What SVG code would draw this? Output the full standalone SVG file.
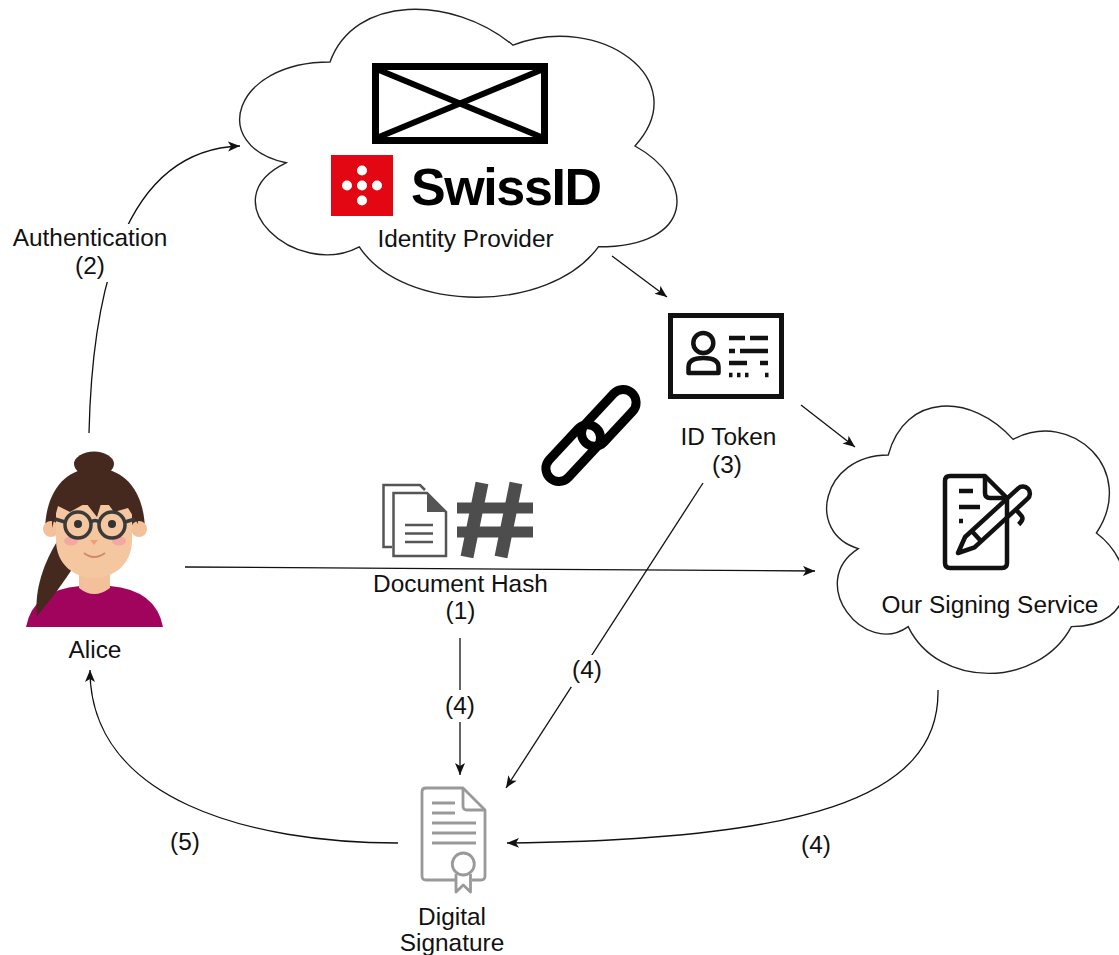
<svg xmlns="http://www.w3.org/2000/svg" width="1119" height="955" viewBox="0 0 1119 955">
  <style>
    .lbl { font-family: "Liberation Sans", Arial, sans-serif; font-size: 24.4px; fill: #111; text-anchor: middle; }
    .cloud { fill: #fff; stroke: #222; stroke-width: 1.4; }
    .edge { fill: none; stroke: #111; stroke-width: 1.3; }
    .ink { fill: none; stroke: #111; stroke-linecap: butt; stroke-linejoin: round; }
    .grey { fill: none; stroke: #555; stroke-width: 2.5; }
    .cert { fill: none; stroke: #999; stroke-width: 2.8; stroke-linejoin: round; }
  </style>
  <defs>
    <marker id="arrow" markerUnits="userSpaceOnUse" markerWidth="14" markerHeight="12" refX="12" refY="5" orient="auto">
      <path d="M0 0 L12 5 L0 10 L3 5 Z" fill="#111"/>
    </marker>
  </defs>

  <rect width="1119" height="955" fill="#fff"/>

  <!-- connectors -->
  <g id="connectors">
    <!-- Alice -> identity provider -->
    <path class="edge" d="M89 433 C92 300 120 150 240 146" marker-end="url(#arrow)"/>
    <!-- identity provider -> ID token -->
    <path class="edge" d="M612 256 L667 297" marker-end="url(#arrow)"/>
    <!-- ID token -> signing service -->
    <path class="edge" d="M801 405 L855 447" marker-end="url(#arrow)"/>
    <!-- Alice -> signing service -->
    <path class="edge" d="M185 567 L815 571" marker-end="url(#arrow)"/>
    <!-- ID token -> digital signature -->
    <path class="edge" d="M703 483 L506 788" marker-end="url(#arrow)"/>
    <!-- document hash -> digital signature -->
    <path class="edge" d="M460 638 L460 775" marker-end="url(#arrow)"/>
    <!-- signing service -> digital signature -->
    <path class="edge" d="M938 690 C940 800 800 840 507 843" marker-end="url(#arrow)"/>
    <!-- digital signature -> Alice -->
    <path class="edge" d="M398 843 C250 843 90 800 90 670" marker-end="url(#arrow)"/>

    <!-- edge labels -->
    <rect x="10" y="224" width="162" height="58" fill="#fff"/>
    <text class="lbl" x="90" y="246">Authentication</text>
    <text class="lbl" x="90" y="274">(2)</text>
    <rect x="571" y="655" width="33" height="32" fill="#fff"/>
    <text class="lbl" x="587" y="678">(4)</text>
    <rect x="444" y="690" width="32" height="32" fill="#fff"/>
    <text class="lbl" x="460" y="714">(4)</text>
    <text class="lbl" x="816" y="853">(4)</text>
    <text class="lbl" x="185" y="850">(5)</text>
  </g>

  <!-- identity provider cloud -->
  <g id="identity-provider">
    <path class="cloud" d="M330 62 C232.4 62 208 146 286.1 162.8 C208 199.8 295.8 280.4 359.3 246.8 C403.2 314 549.6 314 598.4 246.8 C696 246.8 696 179.6 635 146 C696 78.8 598.4 11.6 513 45.2 C452 -5.2 354.4 -5.2 330 62 Z"/>
    <!-- missing-image placeholder -->
    <rect x="375.5" y="66.5" width="169" height="74" fill="none" stroke="#000" stroke-width="7"/>
    <path d="M379 70 L541 137 M379 137 L541 70" stroke="#000" stroke-width="6"/>
    <!-- SwissID logo -->
    <rect x="331" y="155" width="62" height="61" fill="#e30613"/>
    <g fill="#fff">
      <circle cx="362" cy="170.5" r="5"/>
      <circle cx="347" cy="185.5" r="5"/>
      <circle cx="362" cy="185.5" r="5"/>
      <circle cx="377" cy="185.5" r="5"/>
      <circle cx="362" cy="200.5" r="5"/>
    </g>
    <text x="411" y="205" font-family="Liberation Sans, Arial, sans-serif" font-weight="bold" font-size="52" textLength="191" fill="#000">SwissID</text>
    <text class="lbl" x="465.5" y="247">Identity Provider</text>
  </g>

  <!-- ID token -->
  <g id="id-token">
    <rect x="670.5" y="315.5" width="111" height="81" fill="#fff" stroke="#111" stroke-width="5"/>
    <circle cx="703.3" cy="343" r="10" class="ink" stroke-width="4.5"/>
    <path class="ink" stroke-width="4.5" d="M688.5 373 L688.5 367 Q688.5 358 703.5 358 Q718.5 358 718.5 367 L718.5 373 Z"/>
    <g class="ink" stroke-width="4.5">
      <path d="M729 338 H745 M750 338 H768"/>
      <path d="M729 351 H735 M740 351 H768"/>
      <path d="M729 363 H747 M760 363 H768"/>
      <path d="M729 375 H732.5 M737 375 H740.5 M745 375 H748.5 M765 375 H768.5"/>
    </g>
    <text class="lbl" x="728.5" y="445">ID Token</text>
    <text class="lbl" x="727" y="473">(3)</text>
  </g>

  <!-- chain link -->
  <g id="link" transform="translate(591 435.5) rotate(-47)">
    <rect x="-59" y="-14" width="68" height="26" rx="13" fill="none" stroke="#000" stroke-width="9"/>
    <rect x="-9" y="-12" width="68" height="26" rx="13" fill="none" stroke="#000" stroke-width="9"/>
  </g>

  <!-- document hash -->
  <g id="document-hash">
    <path class="grey" d="M392 547 L383.5 547 L383.5 485 L420 485 L425 490"/>
    <path class="grey" d="M393.5 493 L427 493 L446 512 L446 556 L393.5 556 Z" fill="#fff"/>
    <path d="M427 493 L427 512 L446 512 Z" fill="#555"/>
    <path class="grey" d="M405 525 H433 M405 533.5 H433 M405 542 H433"/>
    <g stroke="#4d4d4d" stroke-width="13">
      <path d="M482 483 L467 557 M516 483 L501 557"/>
    </g>
    <g stroke="#4d4d4d" stroke-width="11">
      <path d="M457 508 H533 M457 532 H533"/>
    </g>
    <text class="lbl" x="460.5" y="592">Document Hash</text>
    <text class="lbl" x="460.5" y="619">(1)</text>
  </g>

  <!-- Alice -->
  <g id="alice">
    <!-- shirt and neck -->
    <path d="M26 627 Q33 590 80 586 L110 586 Q156 590 163 627 Z" fill="#a0045c"/>
    <path d="M79 558 L79 588 Q94 600 110 588 L110 558 Z" fill="#f2c19a"/>
    <!-- ponytail -->
    <path d="M58 540 C44 562 34 590 37 616 C52 598 64 582 74 566 Z" fill="#45291e"/>
    <!-- hair back and bun -->
    <ellipse cx="94" cy="464" rx="20" ry="12.5" fill="#45291e"/>
    <path d="M45 532 C45 492 65 468 95 468 C125 468 145 492 145 532 Z" fill="#45291e"/>
    <!-- ears -->
    <circle cx="51" cy="529" r="8" fill="#f2c19a"/>
    <circle cx="139" cy="529" r="8" fill="#f2c19a"/>
    <!-- face -->
    <path d="M56 505 L56 540 C56 565 75 578 94 578 C113 578 132 565 132 540 L132 505 Z" fill="#f5c7a0"/>
    <!-- fringe -->
    <path d="M52 528 L52 506 C55 488 72 480 95 480 C118 480 136 488 138 508 L138 524 L128 508 L114 512 L103 497 L97 517 L86 503 L70 512 L58 506 Z" fill="#45291e"/>
    <!-- cheeks, nose, smile -->
    <ellipse cx="71" cy="541" rx="7" ry="4.5" fill="#f4a8a0"/>
    <ellipse cx="119" cy="541" rx="7" ry="4.5" fill="#f4a8a0"/>
    <path d="M90 540 L98 540 L94 545 Z" fill="#f0a070"/>
    <path d="M84 553 Q94 561 105 553" fill="none" stroke="#d08a6b" stroke-width="2"/>
    <!-- glasses -->
    <circle cx="78" cy="524" r="4" fill="#333"/>
    <circle cx="112" cy="524" r="4" fill="#333"/>
    <g fill="none" stroke="#3a3a3a" stroke-width="3.5">
      <circle cx="78" cy="525" r="13"/>
      <circle cx="112" cy="525" r="13"/>
      <path d="M91 522 Q95 519 99 522 M65 522 L55 519 M125 522 L135 519"/>
    </g>
    <text class="lbl" x="95" y="658">Alice</text>
  </g>

  <!-- signing service cloud -->
  <g id="signing-service">
    <path class="cloud" d="M888.25 455 C821.65 455 805 533 858.3 548.6 C805 582.9 864.9 657.8 908.2 626.6 C938.2 689 1038.1 689 1071.4 626.6 C1138 626.6 1138 564.2 1096.4 533 C1138 470.6 1071.4 408.2 1013.1 439.4 C971.5 392.6 904.9 392.6 888.25 455 Z"/>
    <path class="ink" stroke-width="4.5" fill="#fff" d="M950 476 L985 476 L1007 498 L1007 563 Q1007 568 1002 568 L950 568 Q945 568 945 563 L945 481 Q945 476 950 476 Z"/>
    <path class="ink" stroke-width="4.5" d="M985 476 L985 493 Q985 498 990 498 L1007 498"/>
    <path class="ink" stroke-width="4.5" stroke-linecap="round" d="M959 491 H973 M959 507 H980 M959 521 H963"/>
    <g transform="translate(958 553) rotate(-42.5)">
      <path class="ink" stroke-width="4.5" fill="#fff" d="M0 0 L16 -7 L88 -7 A7 7 0 0 1 88 7 L16 7 Z"/>
      <path class="ink" stroke-width="4.5" d="M25 -7 L25 7 M72 7 L72 15 Q72 20 64 20"/>
    </g>
    <text class="lbl" x="990" y="613">Our Signing Service</text>
  </g>

  <!-- digital signature -->
  <g id="digital-signature">
    <path class="cert" d="M455 880 L426 880 Q422 880 422 876 L422 792 Q422 788 426 788 L463 788 L485 810 L485 876 Q485 880 481 880 L472 880"/>
    <path class="cert" d="M463 788 L463 806 Q463 810 467 810 L485 810"/>
    <path class="cert" d="M432 803 H455 M432 813 H455 M432 823 H476 M432 833 H476 M432 843 H476"/>
    <circle class="cert" cx="463.3" cy="864" r="11" fill="#fff"/>
    <path class="cert" d="M456 874 L456 892 L463.3 885 L470.5 892 L470.5 874"/>
    <text class="lbl" x="452" y="925">Digital</text>
    <text class="lbl" x="452" y="951">Signature</text>
  </g>
</svg>
